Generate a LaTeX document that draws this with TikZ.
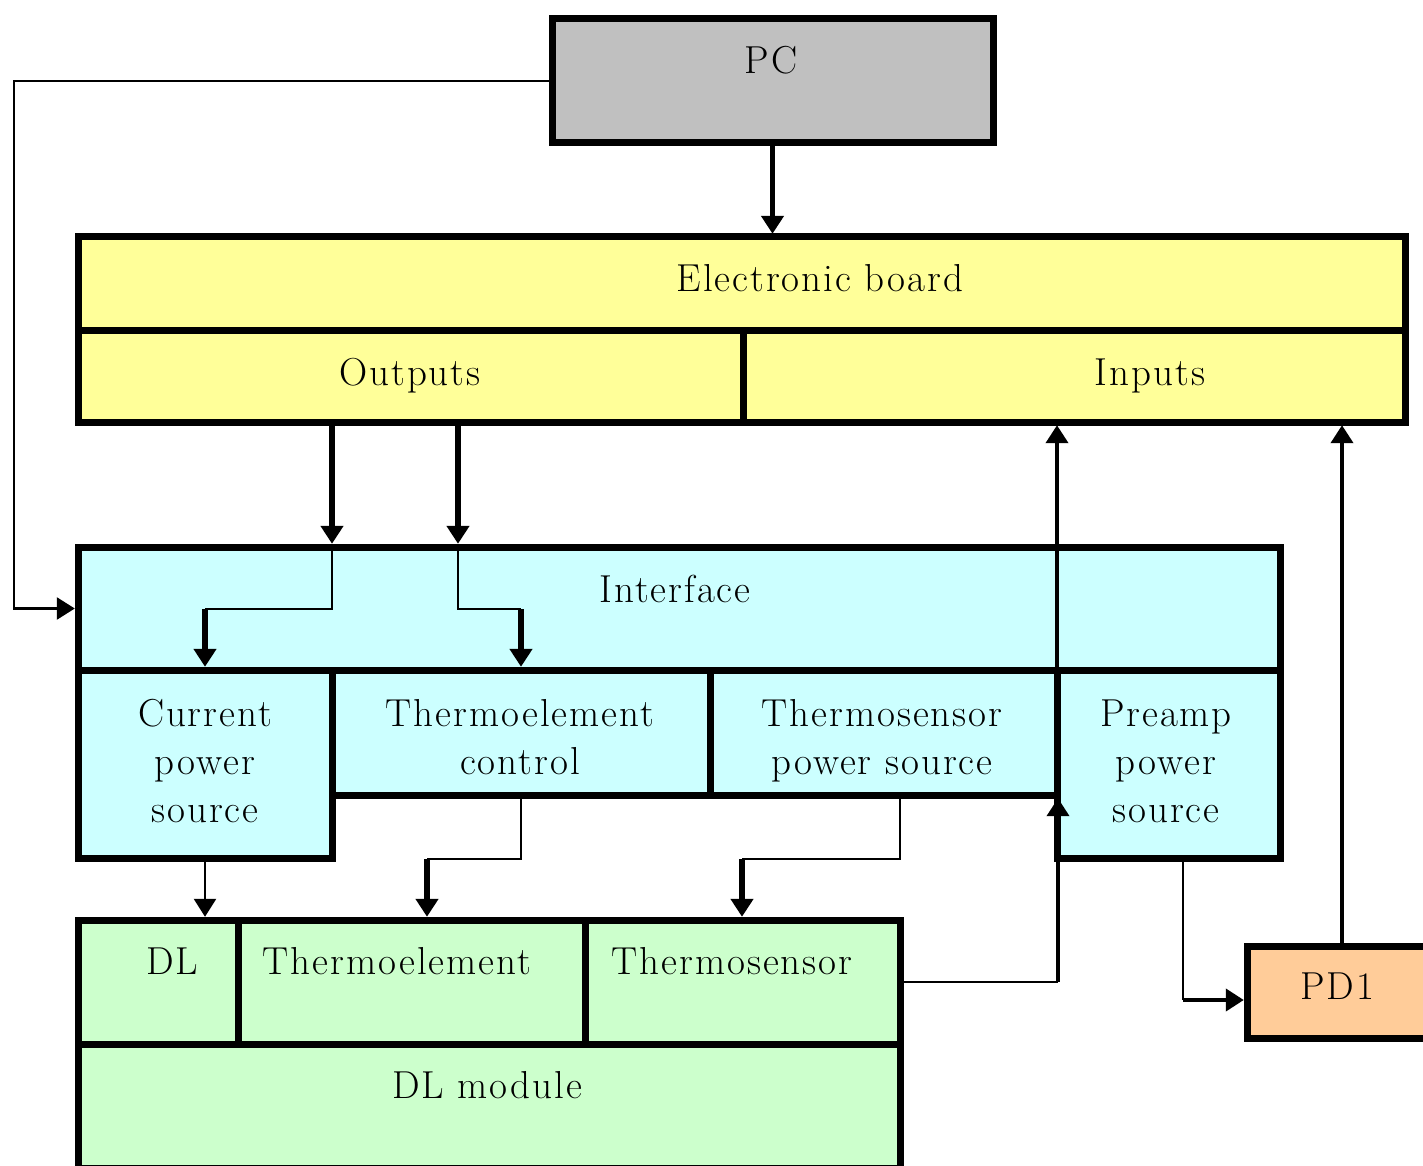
\documentclass[tikz,border=0pt]{standalone}
\usepackage{fontspec}
\setmainfont{Latin Modern Roman}[LetterSpace=5]
\usetikzlibrary{arrows.meta,fit}
\definecolor{pcgray}{HTML}{C0C0C0}
\definecolor{boardyellow}{HTML}{FFFF99}
\definecolor{ifcyan}{HTML}{CCFFFF}
\definecolor{dlgreen}{HTML}{CCFFCC}
\definecolor{pdorange}{HTML}{FFCC99}
\tikzset{
 blk/.style={draw=black, line width=3.5pt, inner sep=0pt, outer sep=0pt},
 txt/.style={inner sep=0pt, font=\fontsize{19.5}{24}\selectfont, align=center},
 tip/.style={-{Triangle[width=11pt,length=9pt]}, shorten >=1.6pt},
 thickw/.style={line width=2.8pt},
 midw/.style={line width=2pt},
 thinw/.style={line width=1.3pt},
}
\begin{document}
\begin{tikzpicture}[x=0.5pt,y=-0.5pt]
\useasboundingbox (0,0) rectangle (1423,1166);
\clip (0,0) rectangle (1423,1166);
% ---- boxes
\node[blk, fill=pcgray, fit={(552,19)(993,143)}] (pc) {};
\node[blk, fill=boardyellow, fit={(78,237)(1405,330)}] (board) {};
\node[blk, fill=boardyellow, fit={(78,330)(743,422)}] (outputs) {};
\node[blk, fill=boardyellow, fit={(743,330)(1405,422)}] (inputs) {};
\node[blk, fill=ifcyan, fit={(78,547)(1280,670)}] (iface) {};
\node[blk, fill=ifcyan, fit={(78,670)(332,858)}] (cur) {};
\node[blk, fill=ifcyan, fit={(332,670)(710,795)}] (tec) {};
\node[blk, fill=ifcyan, fit={(710,670)(1057,795)}] (tsps) {};
\node[blk, fill=ifcyan, fit={(1057,670)(1280,858)}] (pre) {};
\node[blk, fill=dlgreen, fit={(78,920)(238,1044)}] (dl) {};
\node[blk, fill=dlgreen, fit={(238,920)(585,1044)}] (te) {};
\node[blk, fill=dlgreen, fit={(585,920)(900,1044)}] (ts) {};
\node[blk, fill=dlgreen, fit={(78,1044)(900,1168)}] (dlm) {};
\node[blk, fill=pdorange, fit={(1247,946)(1450,1038)}] (pd) {};
% ---- texts
\node[txt, anchor=base] (tpc) at (771,74) {PC};
\node[txt, anchor=base] (tboard) at (820,292) {Electronic board};
\node[txt, anchor=base] (tout) at (410,385) {Outputs};
\node[txt, anchor=base] (tin) at (1150,385) {Inputs};
\node[txt, anchor=base] (tif) at (675,602) {Interface};
\node[txt, anchor=north] (tcur) at (205,699) {Current\\power\\source};
\node[txt, anchor=north] (ttec) at (520,699) {Thermoelement\\control};
\node[txt, anchor=north] (ttsps) at (882,699) {Thermosensor\\power source};
\node[txt, anchor=north] (tpre) at (1166,699) {Preamp\\power\\source};
\node[txt, anchor=base] (tdl) at (172,974) {DL};
\node[txt, anchor=base] (tte) at (397,974) {Thermoelement};
\node[txt, anchor=base] (tts) at (732,974) {Thermosensor};
\node[txt, anchor=base] (tdlm) at (487,1098) {DL module};
\node[txt, anchor=base] (tpd) at (1337,999) {PD1};
% ---- bend points
\coordinate (lp) at (14,82);
\coordinate (o1) at (332,609);
\coordinate (o2) at (458,609);
\coordinate (t1) at (427,859);
\coordinate (s1) at (900,859);
\coordinate (s2) at (742,859);
\coordinate (r1) at (1058,983);
\coordinate (p1) at (1183,1000);
\coordinate (q1) at (1342,946);
% ---- connectors
\draw[thinw, tip] (pc.west) -- (pc.west -| lp) |- (iface.west);
\draw[thickw, tip] (pc.south) -- (pc.south |- board.north);
\draw[thickw, tip] (outputs.south -| o1) -- (iface.north -| o1);
\draw[thinw] (iface.north -| o1) -- (o1) -- (o1 -| cur.north);
\draw[thickw, tip] (o1 -| cur.north) -- (cur.north);
\draw[thickw, tip] (outputs.south -| o2) -- (iface.north -| o2);
\draw[thinw] (iface.north -| o2) -- (o2) -- (o2 -| tec.north);
\draw[thickw, tip] (o2 -| tec.north) -- (tec.north);
\draw[thinw, tip] (cur.south) -- (cur.south |- dl.north);
\draw[thinw] (tec.south) -- (tec.south |- t1) -- (t1);
\draw[thickw, tip] (t1) -- (t1 |- te.north);
\draw[thinw] (tsps.south -| s1) -- (s1) -- (s2);
\draw[thickw, tip] (s2) -- (s2 |- ts.north);
\draw[thinw] (ts.east) -- (ts.east -| r1);
\draw[midw, tip] (ts.east -| r1) -- (r1 |- tsps.south);
\draw[midw, tip] (pre.north west) -- (pre.north west |- inputs.south);
\draw[thinw] (pre.south -| p1) -- (p1);
\draw[midw, tip] (p1) -- (p1 -| pd.west);
\draw[midw, tip] (pd.north -| q1) -- (q1 |- inputs.south);
\end{tikzpicture}
\end{document}
